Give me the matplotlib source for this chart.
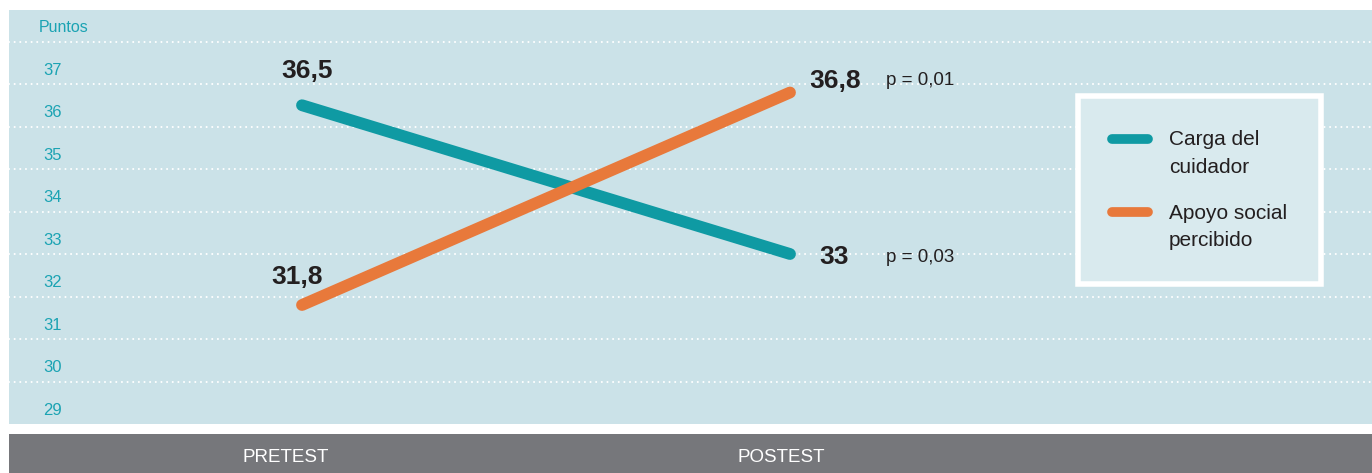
import matplotlib.pyplot as plt
from matplotlib.lines import Line2D
from matplotlib.legend_handler import HandlerLine2D

# data
fases = ["PRETEST", "POSTEST"]
carga = [36.5, 33.0]
apoyo = [31.8, 36.8]
carga_txt = ["36,5", "33"]
apoyo_txt = ["31,8", "36,8"]
p_vals = ["p = 0,01", "p = 0,03"]
y_labels = [29, 30, 31, 32, 33, 34, 35, 36, 37]

TEAL = "#0f9aa3"
ORANGE = "#e8793b"
BG = "#cbe2e8"
GRAY = "#76777b"
LABEL = "#1ba3b3"
DARK = "#231f20"

plt.rcParams['font.family'] = ['Liberation Sans', 'DejaVu Sans']

W, H = 1372, 473
fig = plt.figure(figsize=(W / 100, H / 100), dpi=100)

ax = fig.add_axes([9 / W, (H - 424) / H, 1363 / W, 414 / H])
ax.set_facecolor(BG)
x = [0, 1]
ax.set_xlim(-(302 - 9) / 488, (1372 - 302) / 488)
ax.set_ylim(29, 29 + 414 / 42.5)

# dotted grid
for v in range(30, 39):
    ax.axhline(v, color="white", lw=1.5, linestyle=(0, (0.01, 2.7)),
               dash_capstyle="round", zorder=1)

ax.plot(x, carga, color=TEAL, lw=8.5, solid_capstyle="round", zorder=3)
ax.plot(x, apoyo, color=ORANGE, lw=8.5, solid_capstyle="round", zorder=3)

for s in ax.spines.values():
    s.set_visible(False)
ax.set_xticks([])
ax.set_yticks([])

# y labels above their grid lines
ytr = ax.get_yaxis_transform()
for v in y_labels:
    ax.annotate(str(v), xy=(0, v), xycoords=ytr, xytext=(34, 14),
                textcoords="offset pixels", ha="left", va="center",
                fontsize=12, color=LABEL)
ax.annotate("Puntos", xy=(0, 38), xycoords=ytr, xytext=(30, 14),
            textcoords="offset pixels", ha="left", va="center",
            fontsize=11.5, color=LABEL)

# value labels
big = dict(textcoords="offset pixels", ha="center", va="center",
           fontsize=19, fontweight="bold", color=DARK)
ax.annotate(carga_txt[0], xy=(x[0], carga[0]), xytext=(5, 34), **big)
ax.annotate(apoyo_txt[0], xy=(x[0], apoyo[0]), xytext=(-5, 28), **big)
ax.annotate(apoyo_txt[1], xy=(x[1], apoyo[1]), xytext=(45, 12), **big)
ax.annotate(carga_txt[1], xy=(x[1], carga[1]), xytext=(44, -3), **big)

small = dict(textcoords="offset pixels", ha="left", va="center",
             fontsize=13.5, color=DARK)
ax.annotate(p_vals[0], xy=(x[1], apoyo[1]), xytext=(96, 12), **small)
ax.annotate(p_vals[1], xy=(x[1], carga[1]), xytext=(96, -3), **small)


# legend handle sits on the first text line, not centred on both
class TopLine(HandlerLine2D):
    def create_artists(self, legend, orig_handle, xdescent, ydescent,
                       width, height, fontsize, trans):
        arts = super().create_artists(legend, orig_handle, xdescent, ydescent,
                                      width, height, fontsize, trans)
        for a in arts:
            a.set_ydata([y + 10.5 for y in a.get_ydata()])
        return arts


handles = [Line2D([], [], color=TEAL, lw=7, solid_capstyle="round"),
           Line2D([], [], color=ORANGE, lw=7, solid_capstyle="round")]
leg = ax.legend(handles, ["Carga del\ncuidador", "Apoyo social\npercibido"],
                handler_map={Line2D: TopLine()},
                loc="upper left",
                bbox_to_anchor=((1078 - 9) / 1363, (424 - 96) / 414),
                frameon=True, fancybox=False, framealpha=1,
                facecolor="#d9eaee", edgecolor="white",
                fontsize=15, handlelength=1.7, handletextpad=1.0,
                labelspacing=1.3, borderpad=1.65, borderaxespad=0)
leg.get_frame().set_linewidth(4)
for t in leg.get_texts():
    t.set_color(DARK)
    t.set_linespacing(1.55)

# bottom band with phase labels
ax2 = fig.add_axes([9 / W, 0, 1363 / W, 39 / H])
ax2.set_facecolor(GRAY)
ax2.set_xlim(ax.get_xlim())
ax2.set_ylim(0, 1)
ax2.set_xticks([])
ax2.set_yticks([])
for s in ax2.spines.values():
    s.set_visible(False)
for xi, nombre, dx in zip(x, fases, [-16, -9]):
    ax2.annotate(nombre, xy=(xi, 0.4), xytext=(dx, 0),
                 textcoords="offset pixels", ha="center", va="center",
                 fontsize=13.5, color="white")

fig.savefig("out.png", dpi=100)
